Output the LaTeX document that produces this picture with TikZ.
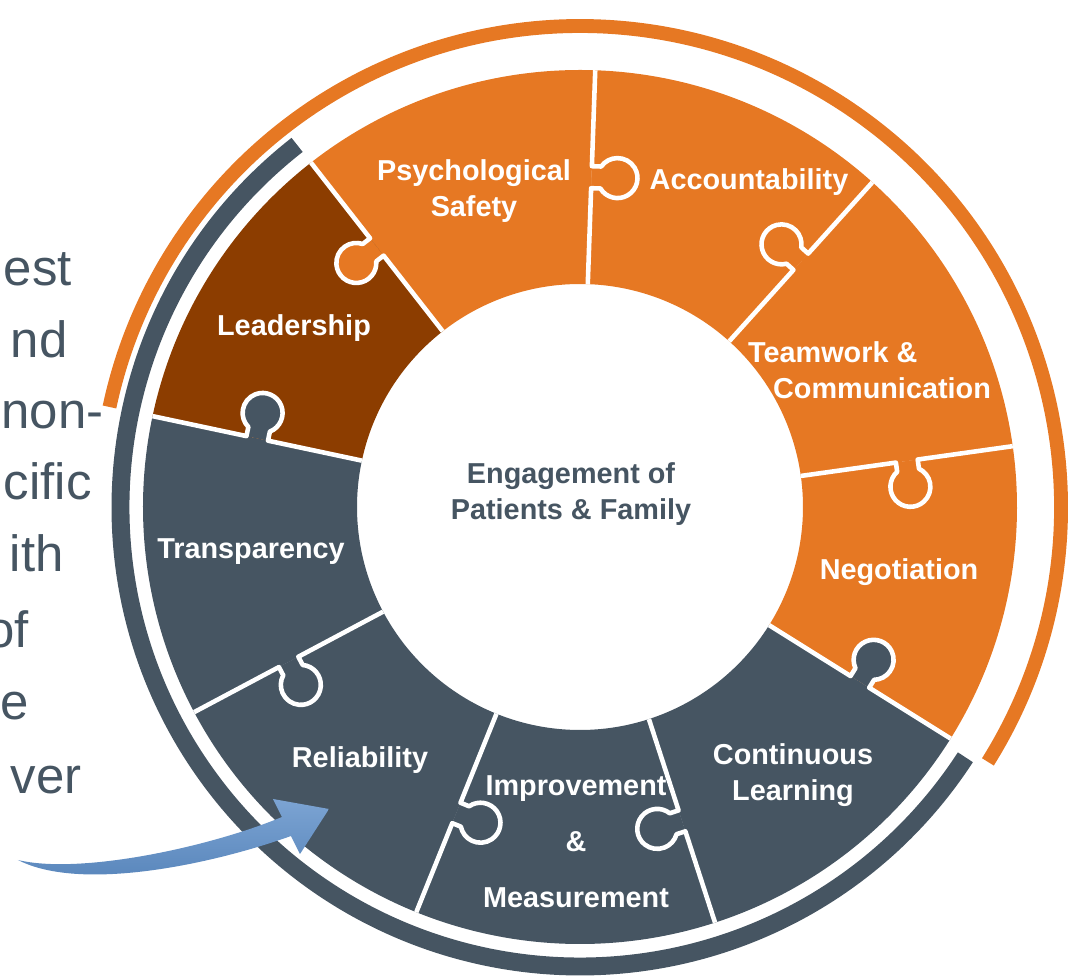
\documentclass[tikz,border=0pt]{standalone}
\usepackage{fontspec}
\setmainfont{Liberation Sans}
\usepackage{tikz}

\definecolor{orng}{HTML}{E67823}
\definecolor{brwn}{HTML}{8C3D00}
\definecolor{slate}{HTML}{465562}
\definecolor{arrowblue}{HTML}{5B8DC8}

\tikzset{
  piece/.style={font=\bfseries\fontsize{16.4}{20.4}\selectfont, text=white, align=center, inner sep=0pt},
  seam/.style={white, line width=2.6pt, line join=round},
  fragment/.style={font=\fontsize{29}{35}\selectfont, text=slate, anchor=base east, inner sep=0pt}
}

\begin{document}
\begin{tikzpicture}[x=0.02cm, y=0.02cm]
	\useasboundingbox (-580,-469) rectangle (488,507);
	\coordinate (O) at (0,0);

	% outer bands
	\draw[orng, line width=7.9pt] (-32:481) arc[start angle=-32, end angle=168, radius=481];
	\draw[slate, line width=10.2pt] (128:459.5) arc[start angle=128, end angle=327, radius=459.5];

	% ring pieces
	\foreach \a/\c in {88/orng, 48/orng, 8/orng, -32/orng, -72/slate, -112/slate, -152/slate, -192/slate, 128/brwn}
		\fill[\c] (\a:223) -- (\a:437) arc[start angle=\a, delta angle=40, radius=437] -- ({\a+40}:223) arc[start angle={\a+40}, delta angle=-40, radius=223] -- cycle;

	% knobs and seams
	\foreach \b/\s/\c in {128/1/orng, 88/-1/orng, 48/1/orng, 8/-1/orng, -32/1/slate, -72/-1/slate, -112/1/slate, -152/1/slate, 168/-1/slate}{
		\begin{scope}[rotate=\b]
			\fill[\c] (319,0) -- (319,{\s*9.3}) arc[start angle={180+\s*56.6}, delta angle={-\s*293.2}, radius=20] -- (341,0) -- cycle;
			\draw[seam] (223,0) -- (319,0) -- (319,{\s*9.3}) arc[start angle={180+\s*56.6}, delta angle={-\s*293.2}, radius=20] -- (341,0) -- (437,0);
		\end{scope}
	}

	% labels
	\node[piece] (psych) at (-106,316) {Psychological\\Safety};
	\node[piece] (account) at (169,325) {Accountability};
	\node[piece, align=left] (team) at (289.5,137) {Teamwork \&\\\hspace*{0.5cm}Communication};
	\node[piece] (negot) at (319,-65) {Negotiation};
	\node[piece] (contin) at (213,-268) {Continuous\\Learning};
	\node[piece, font=\bfseries\fontsize{16.4}{32}\selectfont] (improve) at (-4,-335) {Improvement\\\&\\Measurement};
	\node[piece] (reliab) at (-220,-253) {Reliability};
	\node[piece] (transp) at (-329,-45) {Transparency};
	\node[piece] (lead) at (-286,179) {Leadership};
	\node[piece, text=slate] (engage) at (-9,13) {Engagement of\\Patients \& Family};

	% cut-off text on the left
	\foreach \t/\x/\y [count=\i] in {est/72/286, nd/68/358, non-/104/429, cific/92/500, ith/64/572, of/29/648, e/29/720, ver/82/794}
		\node[fragment] (frag\i) at (\x-580, 507-\y) {\t};

	% blue arrow
	\shade[top color=arrowblue!80!white, bottom color=arrowblue!92!black] (-562,-353) .. controls (-500,-368) and (-370,-340) .. (-298,-310) -- (-307,-292) -- (-251,-302) -- (-280,-347) -- (-289,-329) .. controls (-370,-358) and (-500,-385) .. (-562,-353) -- cycle;
\end{tikzpicture}
\end{document}
